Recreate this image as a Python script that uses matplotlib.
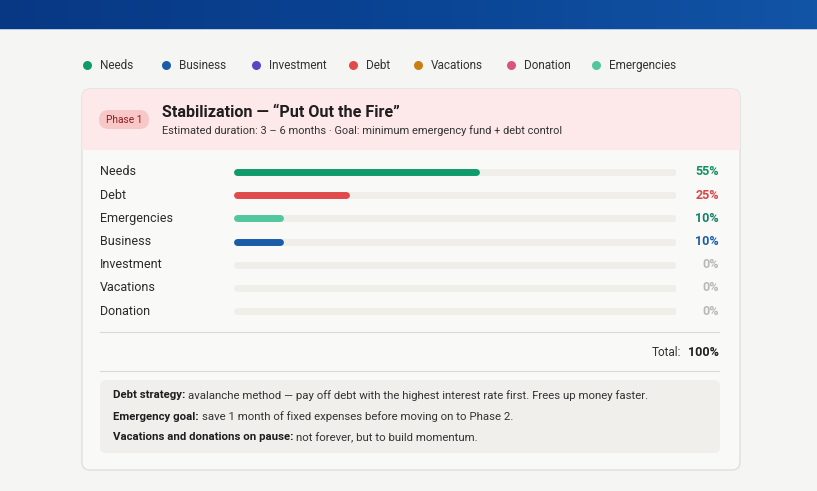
import numpy as np
import matplotlib
matplotlib.use('Agg')
from matplotlib import pyplot as plt
from matplotlib.patches import FancyBboxPatch, Rectangle
from matplotlib.colors import LinearSegmentedColormap
import matplotlib.transforms as mtransforms

plt.rcParams['font.family'] = ['Roboto', 'DejaVu Sans']

# legend categories
legend_names = ['Needs', 'Business', 'Investment', 'Debt', 'Vacations', 'Donation', 'Emergencies']
legend_colors = ['#0f9b6c', '#1b5ca8', '#5b45c2', '#e14a4a', '#c97f12', '#d9547c', '#52c79e']

# phase 1 allocation
row_names = ['Needs', 'Debt', 'Emergencies', 'Business', 'Investment', 'Vacations', 'Donation']
row_values = [55, 25, 10, 10, 0, 0, 0]
row_colors = ['#0f9b6c', '#e14a4a', '#52c79e', '#1b5ca8', '#cccccc', '#cccccc', '#cccccc']
text_colors = ['#0f8f63', '#d94545', '#15806a', '#1b5ca8', '#b8b8b8', '#b8b8b8', '#b8b8b8']
total_value = 100

phase_tag = 'Phase 1'
title = 'Stabilization \u2014 \u201cPut Out the Fire\u201d'
subtitle = 'Estimated duration: 3 \u2013 6 months \u00b7 Goal: minimum emergency fund + debt control'
notes = [
    ('Debt strategy:', 'avalanche method \u2014 pay off debt with the highest interest rate first. Frees up money faster.'),
    ('Emergency goal:', 'save 1 month of fixed expenses before moving on to Phase 2.'),
    ('Vacations and donations on pause:', 'not forever, but to build momentum.'),
]

W, H = 817, 491
fig = plt.figure(figsize=(W / 100, H / 100), dpi=100)
fig.patch.set_facecolor('#f5f5f3')
ax = fig.add_axes([0, 0, 1, 1])
ax.set_xlim(0, W)
ax.set_ylim(H, 0)
ax.axis('off')

# top band
cmap = LinearSegmentedColormap.from_list('band', ['#083884', '#0a4494', '#1254a6'])
grad = np.linspace(0, 1, 256).reshape(1, -1)
ax.imshow(grad, cmap=cmap, extent=[0, W, 29, 0], aspect='auto', zorder=1)
ax.plot([0, W], [29.3, 29.3], color='#a9c2e4', lw=0.6, zorder=2)

# legend
lx = [87, 166, 256, 353, 418, 511, 596]
for x, name, c in zip(lx, legend_names, legend_colors):
    ax.scatter(x, 65, s=42, color=c, zorder=3, linewidths=0)
    ax.text(x + 13, 65.5, name, fontsize=8.5, color='#333333', va='center', ha='left', zorder=3)

# card
card = FancyBboxPatch((82, 89), 658, 381, boxstyle='round,pad=0,rounding_size=8',
                      facecolor='#f9f9f7', edgecolor='#dadada', lw=0.8, zorder=2)
ax.add_patch(card)
header = Rectangle((82, 89), 658, 61, facecolor='#fde9e9', edgecolor='none', zorder=2.1)
ax.add_patch(header)
header.set_clip_path(card)

pill = FancyBboxPatch((99, 110), 50, 19, boxstyle='round,pad=0,rounding_size=9.5',
                      facecolor='#f8c7c7', edgecolor='none', zorder=3)
ax.add_patch(pill)
ax.text(124, 119.8, phase_tag, fontsize=7.3, color='#8e1d1d', ha='center', va='center', zorder=4)
ax.text(162, 112, title, fontsize=11.6, fontweight='bold', color='#1e1e1e', ha='left', va='center', zorder=4)
ax.text(162, 130.5, subtitle, fontsize=7.9, color='#333333', ha='left', va='center', zorder=4)

# bars
n = len(row_names)
step = 23.2
y0 = 172
bx0, bx1 = 233, 676
ax_b = fig.add_axes([bx0 / W, 1 - (y0 + (n - 0.5) * step) / H, (bx1 - bx0) / W, n * step / H])
ax_b.set_facecolor('none')
cap = 3.5 / (bx1 - bx0 - 7) * 100
ax_b.set_xlim(-cap, 100 + cap)
ax_b.set_ylim(n - 0.5, -0.5)
ax_b.axis('off')
ypos = np.arange(n)
ax_b.hlines(ypos, 0, 100, colors='#efeee9', lw=5, capstyle='round', zorder=1)
for i, (v, c) in enumerate(zip(row_values, row_colors)):
    if v > 0:
        ax_b.hlines(i, 0, v, colors=c, lw=5, capstyle='round', zorder=2)

tr = mtransforms.blended_transform_factory(ax.transData, ax_b.transData)
for i, (name, v, tc) in enumerate(zip(row_names, row_values, text_colors)):
    ax.text(100, i, name, transform=tr, fontsize=9, color='#2a2a2a', ha='left', va='center', zorder=4)
    ax.text(719, i, f'{v}%', transform=tr, fontsize=9, fontweight='bold', color=tc,
            ha='right', va='center', zorder=4)

# total
ax.plot([100, 719], [332, 332], color='#d9d9d9', lw=0.8, zorder=3)
ax.plot([100, 719], [371, 371], color='#d9d9d9', lw=0.8, zorder=3)
fig.canvas.draw()
renderer = fig.canvas.get_renderer()
t_val = ax.text(719, 353, f'{total_value}%', fontsize=9, fontweight='bold', color='#1e1e1e',
                ha='right', va='center', zorder=4)
wv = t_val.get_window_extent(renderer).width
ax.text(719 - wv - 7, 353, 'Total:', fontsize=8.5, color='#333333', ha='right', va='center', zorder=4)

# notes box
box = FancyBboxPatch((100, 380), 620, 73, boxstyle='round,pad=0,rounding_size=6',
                     facecolor='#f0efeb', edgecolor='none', zorder=3)
ax.add_patch(box)
for j, (b, rest) in enumerate(notes):
    yy = 395.5 + j * 21
    tb = ax.text(113, yy, b, fontsize=8.2, fontweight='bold', color='#1e1e1e', ha='left', va='center', zorder=4)
    wb = tb.get_window_extent(renderer).width
    ax.text(113 + wb + 3, yy, rest, fontsize=8.2, color='#333333', ha='left', va='center', zorder=4)

fig.savefig('out.png', dpi=100, facecolor=fig.get_facecolor())
